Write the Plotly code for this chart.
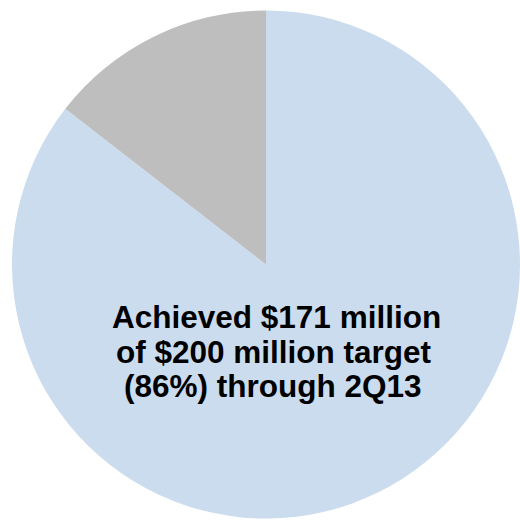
import plotly.graph_objects as go

# Progress toward the $200 million target (in $ millions)
labels = ["Achieved", "Remaining"]
values = [171, 29]
colors = ["#CBDCEE", "#BEBEBE"]
caption_lines = [
    "Achieved $171 million",
    "of $200 million target",
    "(86%) through 2Q13",
]

W, H = 520, 522

fig = go.Figure(
    go.Pie(
        labels=labels,
        values=values,
        sort=False,
        direction="clockwise",
        rotation=0,
        marker=dict(colors=colors, line=dict(width=0)),
        textinfo="none",
        hoverinfo="label+value",
        domain=dict(x=[12 / W, 1.0], y=[1 - 518.5 / H, 1 - 10.5 / H]),
        showlegend=False,
    )
)

line_y = [317, 351.5, 386]
line_x = [276.5, 274, 273]
for txt, yp, xp in zip(caption_lines, line_y, line_x):
    fig.add_annotation(
        text=f"<b>{txt}</b>",
        x=xp / W,
        y=1 - yp / H,
        xref="paper",
        yref="paper",
        xanchor="center",
        yanchor="middle",
        showarrow=False,
        font=dict(family="Liberation Sans, Arial, sans-serif", size=31.5, color="#000000"),
    )

fig.update_layout(
    width=W,
    height=H,
    margin=dict(l=0, r=0, t=0, b=0),
    paper_bgcolor="white",
    plot_bgcolor="white",
)

fig.write_html("out.html")
